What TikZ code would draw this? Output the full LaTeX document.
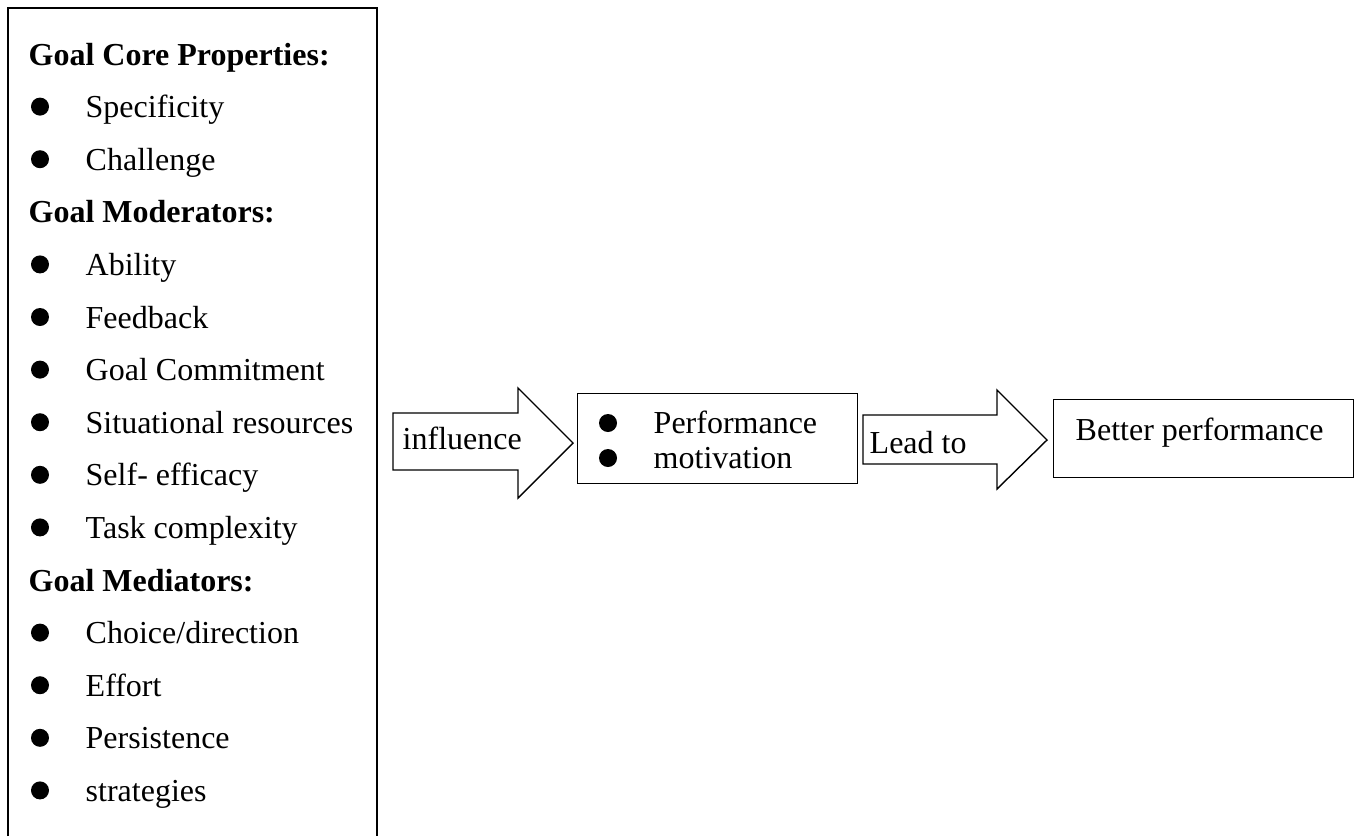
\documentclass[tikz,border=0pt]{standalone}
\usepackage{fontspec}
\setmainfont{Liberation Serif}
\begin{document}
\begin{tikzpicture}[x=1pt,y=-1pt,line width=1.4pt,
  txt/.style={font=\fontsize{32}{38}\selectfont, inner sep=0pt, anchor=base west},
  hd/.style={font=\fontsize{32}{38}\selectfont\bfseries, inner sep=0pt, anchor=base west},
  dot/.style={circle, fill=black, draw=none, inner sep=0pt, minimum size=18pt},
  box/.style={draw=black, line width=1.4pt, inner sep=0pt, anchor=north west},
  blk/.style={draw=black, line width=1.4pt, line join=miter}]
\useasboundingbox (0,0) rectangle (1359,836);
% left box (open at the bottom)
\coordinate (lb1) at (8,836);
\coordinate (lb2) at (8,8);
\coordinate (lb3) at (377,8);
\coordinate (lb4) at (377,836);
\draw[blk] (lb1) -- (lb2) -- (lb3) -- (lb4);
% rows
\node[hd]  (r0)  at (28,65)    {Goal Core Properties:};
\node[txt] (r1)  at (85,117.6) {Specificity};
\node[txt] (r2)  at (85,170.2) {Challenge};
\node[hd]  (r3)  at (28,222.8) {Goal Moderators:};
\node[txt] (r4)  at (85,275.4) {Ability};
\node[txt] (r5)  at (85,328)   {Feedback};
\node[txt] (r6)  at (85,380.6) {Goal Commitment};
\node[txt] (r7)  at (85,433.2) {Situational resources};
\node[txt] (r8)  at (85,485.8) {Self- efficacy};
\node[txt] (r9)  at (85,538.4) {Task complexity};
\node[hd]  (r10) at (28,591)   {Goal Mediators:};
\node[txt] (r11) at (85,643.6) {Choice/direction};
\node[txt] (r12) at (85,696.2) {Effort};
\node[txt] (r13) at (85,748.8) {Persistence};
\node[txt] (r14) at (85,801.4) {strategies};
\foreach \k/\yy in {1/117.6,2/170.2,4/275.4,5/328,6/380.6,7/433.2,8/485.8,9/538.4,11/643.6,12/696.2,13/748.8,14/801.4}
  \node[dot] (d\k) at (40,\yy-11) {};
% influence arrow
\draw[blk] (393,413) -- (518,413) -- (518,388) -- (573,443) -- (518,498) -- (518,470) -- (393,470) -- cycle;
\node[txt] (infl) at (402,449) {influence};
% middle box
\node[box, minimum width=280pt, minimum height=90pt] (mid) at (577,393) {};
\node[dot] (m1) at (608,423) {};
\node[dot] (m2) at (608,458) {};
\node[txt] (perf) at (653,433) {Performance};
\node[txt] (motiv) at (653,468) {motivation};
% lead to arrow
\draw[blk] (863,415) -- (997,415) -- (997,390) -- (1047,440) -- (997,489) -- (997,464) -- (863,464) -- cycle;
\node[txt] (lead) at (869,453) {Lead to};
% better performance box
\node[box, minimum width=300pt, minimum height=78pt] (better) at (1053,399) {};
\node[txt] (bettertxt) at (1075,440) {Better performance};
\end{tikzpicture}
\end{document}
